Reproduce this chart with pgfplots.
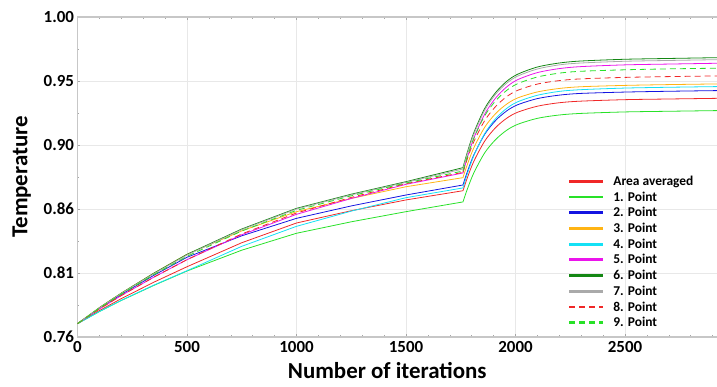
\documentclass[border=0pt]{standalone}
\usepackage{fontspec}
\setmainfont{Carlito}
\usepackage{pgfplots}
\usepackage{pgfplotstable}
\pgfplotsset{compat=1.18}

\definecolor{cRed}{RGB}{240,40,40}
\definecolor{cGreen}{RGB}{40,225,40}
\definecolor{cBlue}{RGB}{20,20,225}
\definecolor{cOrange}{RGB}{255,180,20}
\definecolor{cCyan}{RGB}{20,225,245}
\definecolor{cMag}{RGB}{235,20,235}
\definecolor{cDkGreen}{RGB}{20,135,20}
\definecolor{cGray}{RGB}{170,170,170}

\pgfplotstableread{
it a p1 p2 p3 p4 p5 p6 p7 p8 p9
0 0.7700 0.7700 0.7700 0.7700 0.7700 0.7700 0.7700 0.7700 0.7700 0.7700
100 0.7798 0.7791 0.7815 0.7820 0.7791 0.7810 0.7820 0.7818 0.7810 0.7816
200 0.7888 0.7874 0.7919 0.7929 0.7875 0.7911 0.7929 0.7927 0.7911 0.7922
350 0.8012 0.7988 0.8064 0.8080 0.7990 0.8050 0.8080 0.8076 0.8050 0.8069
500 0.8127 0.8095 0.8198 0.8220 0.8097 0.8180 0.8220 0.8215 0.8180 0.8205
750 0.8307 0.8251 0.8359 0.8396 0.8280 0.8367 0.8410 0.8405 0.8373 0.8395
1000 0.8455 0.8378 0.8490 0.8540 0.8430 0.8520 0.8565 0.8560 0.8530 0.8550
1250 0.8547 0.8464 0.8583 0.8639 0.8544 0.8639 0.8671 0.8666 0.8647 0.8659
1500 0.8628 0.8540 0.8665 0.8727 0.8645 0.8745 0.8765 0.8760 0.8750 0.8755
1760 0.8697 0.8613 0.8740 0.8795 0.8718 0.8830 0.8870 0.8860 0.8835 0.8845
1780 0.8794 0.8709 0.8839 0.8893 0.8824 0.8945 0.8986 0.8975 0.8936 0.8953
1810 0.8919 0.8832 0.8967 0.9020 0.8961 0.9093 0.9134 0.9122 0.9066 0.9092
1860 0.9071 0.8983 0.9122 0.9175 0.9128 0.9274 0.9316 0.9303 0.9225 0.9261
1910 0.9172 0.9082 0.9225 0.9277 0.9239 0.9394 0.9435 0.9422 0.9330 0.9373
1960 0.9241 0.9151 0.9296 0.9347 0.9315 0.9476 0.9518 0.9504 0.9403 0.9450
2010 0.9286 0.9195 0.9342 0.9393 0.9364 0.9530 0.9571 0.9557 0.9450 0.9500
2100 0.9331 0.9240 0.9388 0.9438 0.9413 0.9583 0.9625 0.9610 0.9497 0.9550
2200 0.9357 0.9265 0.9414 0.9464 0.9442 0.9613 0.9655 0.9641 0.9523 0.9579
2300 0.9369 0.9277 0.9427 0.9477 0.9455 0.9628 0.9670 0.9655 0.9536 0.9593
2500 0.9380 0.9288 0.9437 0.9487 0.9467 0.9641 0.9683 0.9668 0.9547 0.9604
2700 0.9385 0.9293 0.9443 0.9493 0.9473 0.9647 0.9689 0.9674 0.9553 0.9611
2920 0.9390 0.9298 0.9448 0.9498 0.9478 0.9653 0.9695 0.9680 0.9558 0.9616
}\datatab

\begin{document}
\begin{tikzpicture}
\begin{axis}[
  scale only axis,
  width=639.5bp, height=320bp,
  xmin=0, xmax=2920, ymin=0.76, ymax=1.0,
  axis x line*=box, axis y line*=left,
  axis line style={draw=black!22, line width=1.2pt},
  xtick={0,500,1000,1500,2000,2500},
  xticklabel style={/pgf/number format/1000 sep={}},
  minor xtick={100,200,300,400,600,700,800,900,1100,1200,1300,1400,1600,1700,1800,1900,2100,2200,2300,2400,2600,2700,2800,2900},
  ytick={0.76,0.808,0.856,0.904,0.952,1.0},
  yticklabels={0.76,0.81,0.86,0.90,0.95,1.00},
  minor ytick={0.784,0.832,0.88,0.928,0.976},
  tick style={draw=black!35, line width=0.5pt},
  major tick length=3bp, minor tick length=2bp,
  tick align=inside,
  grid=major,
  major grid style={draw=black!9, line width=0.8pt},
  /pgf/number format/assume math mode=true,
  ticklabel style={font=\fontsize{17}{19}\selectfont\bfseries},
  xticklabel style={yshift=-1bp},
  xlabel={Number of iterations},
  ylabel={Temperature},
  label style={font=\fontsize{23}{25}\selectfont\bfseries},
  xlabel style={yshift=-3bp, xshift=-10bp},
  ylabel style={yshift=6bp},
  legend style={draw=none, fill=none, at={(axis cs:2225,0.8840)}, anchor=north west,
    font=\fontsize{13.5}{15}\selectfont\bfseries, row sep=0.8bp},
  legend cell align=left,
  legend image code/.code={\draw[#1, line width=2.8bp] (0bp,0bp) -- (34bp,0bp); \path[draw=none, fill=none] (0bp,0bp) -- (42bp,0bp);},
  every axis plot/.append style={line width=0.8pt},
]
\coordinate (O) at (rel axis cs:0,0);
\coordinate (T) at (rel axis cs:1,1);
\addplot[cRed, restrict x to domain=0:1760] table[x=it,y=a]{\datatab};
\addlegendentry{Area averaged}
\addplot[cGreen, restrict x to domain=0:1760] table[x=it,y=p1]{\datatab};
\addlegendentry{1. Point}
\addplot[cBlue, restrict x to domain=0:1760] table[x=it,y=p2]{\datatab};
\addlegendentry{2. Point}
\addplot[cOrange, restrict x to domain=0:1760] table[x=it,y=p3]{\datatab};
\addlegendentry{3. Point}
\addplot[cCyan, restrict x to domain=0:1760] table[x=it,y=p4]{\datatab};
\addlegendentry{4. Point}
\addplot[cMag, restrict x to domain=0:1760] table[x=it,y=p5]{\datatab};
\addlegendentry{5. Point}
\addplot[cDkGreen, restrict x to domain=0:1760] table[x=it,y=p6]{\datatab};
\addlegendentry{6. Point}
\addplot[cGray, restrict x to domain=0:1760] table[x=it,y=p7]{\datatab};
\addlegendentry{7. Point}
\addplot[cRed, dash pattern=on 6bp off 4bp, restrict x to domain=0:1760] table[x=it,y=p8]{\datatab};
\addlegendentry{8. Point}
\addplot[cGreen, dash pattern=on 6bp off 4bp, restrict x to domain=0:1760] table[x=it,y=p9]{\datatab};
\addlegendentry{9. Point}
\addplot[cRed, smooth, forget plot, restrict x to domain=1760:2920] table[x=it,y=a]{\datatab};
\addplot[cGreen, smooth, forget plot, restrict x to domain=1760:2920] table[x=it,y=p1]{\datatab};
\addplot[cBlue, smooth, forget plot, restrict x to domain=1760:2920] table[x=it,y=p2]{\datatab};
\addplot[cOrange, smooth, forget plot, restrict x to domain=1760:2920] table[x=it,y=p3]{\datatab};
\addplot[cCyan, smooth, forget plot, restrict x to domain=1760:2920] table[x=it,y=p4]{\datatab};
\addplot[cMag, smooth, forget plot, restrict x to domain=1760:2920] table[x=it,y=p5]{\datatab};
\addplot[cDkGreen, smooth, forget plot, restrict x to domain=1760:2920] table[x=it,y=p6]{\datatab};
\addplot[cGray, smooth, forget plot, restrict x to domain=1760:2920] table[x=it,y=p7]{\datatab};
\addplot[cRed, smooth, dash pattern=on 6bp off 4bp, forget plot, restrict x to domain=1760:2920] table[x=it,y=p8]{\datatab};
\addplot[cGreen, smooth, dash pattern=on 6bp off 4bp, forget plot, restrict x to domain=1760:2920] table[x=it,y=p9]{\datatab};
\end{axis}
\path (O) ++(-77.5bp,-50bp) coordinate (A);
\path (T) ++(0bp,17bp) coordinate (B);
\pgfresetboundingbox
\path[use as bounding box] (A) rectangle (B);
\end{tikzpicture}
\end{document}
